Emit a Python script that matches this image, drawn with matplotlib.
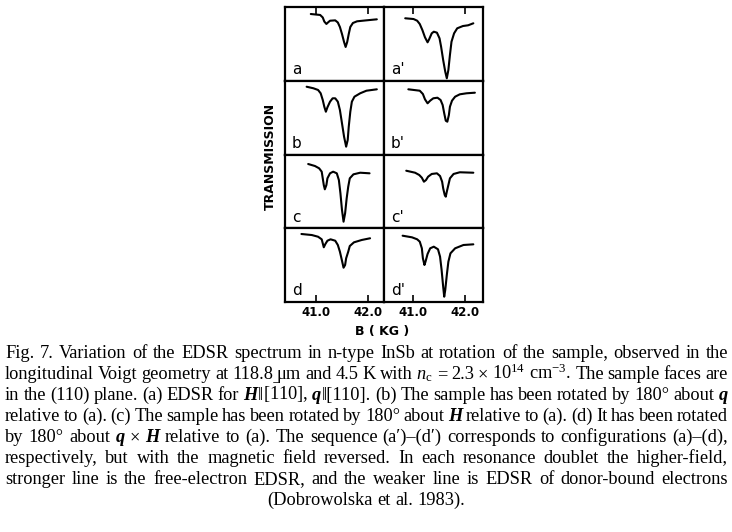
import matplotlib
matplotlib.use("Agg")
import matplotlib.pyplot as plt

plt.rcParams['mathtext.fontset'] = 'custom'
plt.rcParams['mathtext.rm'] = 'Liberation Serif'
plt.rcParams['mathtext.it'] = 'Liberation Serif:italic'
plt.rcParams['mathtext.bf'] = 'Liberation Serif:bold'

# ---------------- data (B in kG, transmission in arbitrary units) ----------------
B_a = [40.90, 41.08, 41.13, 41.16, 41.20, 41.23, 41.27, 41.37, 41.42, 41.46, 41.50, 41.54, 41.57,
       41.60, 41.63, 41.66, 41.71, 41.79, 41.94, 42.17]
T_a = [0.905, 0.892, 0.858, 0.803, 0.770, 0.790, 0.814, 0.819, 0.790, 0.729, 0.634, 0.525, 0.458,
       0.525, 0.634, 0.729, 0.783, 0.806, 0.817, 0.833]

B_a2 = [40.85, 41.01, 41.08, 41.13, 41.18, 41.23, 41.28, 41.31, 41.36, 41.40, 41.46, 41.51, 41.54,
        41.58, 41.62, 41.65, 41.68, 41.71, 41.74, 41.79, 41.85, 41.96, 42.06, 42.16]
T_a2 = [0.847, 0.837, 0.814, 0.769, 0.688, 0.589, 0.521, 0.562, 0.643, 0.665, 0.652, 0.575, 0.462,
        0.281, 0.123, 0.033, 0.146, 0.349, 0.529, 0.643, 0.711, 0.742, 0.752, 0.779]

B_b = [40.82, 40.95, 41.04, 41.09, 41.13, 41.16, 41.19, 41.22, 41.27, 41.32, 41.37, 41.42, 41.46,
       41.50, 41.54, 41.58, 41.61, 41.63, 41.66, 41.69, 41.74, 41.85, 41.97, 42.17]
T_b = [0.919, 0.898, 0.875, 0.830, 0.739, 0.648, 0.580, 0.640, 0.716, 0.762, 0.762, 0.716, 0.603,
       0.423, 0.241, 0.106, 0.197, 0.377, 0.580, 0.716, 0.784, 0.830, 0.865, 0.884]

B_b2 = [40.91, 41.13, 41.19, 41.23, 41.28, 41.33, 41.39, 41.47, 41.53, 41.57, 41.60, 41.63, 41.66,
        41.69, 41.71, 41.75, 41.81, 41.90, 42.03, 42.19]
T_b2 = [0.884, 0.865, 0.820, 0.748, 0.694, 0.730, 0.762, 0.770, 0.739, 0.671, 0.559, 0.458, 0.445,
        0.536, 0.648, 0.730, 0.784, 0.816, 0.830, 0.838]

B_c = [40.85, 40.98, 41.06, 41.11, 41.13, 41.15, 41.17, 41.20, 41.22, 41.27, 41.33, 41.40, 41.44,
       41.47, 41.50, 41.53, 41.56, 41.59, 41.62, 41.65, 41.72, 41.85, 42.03]
T_c = [0.871, 0.844, 0.813, 0.767, 0.677, 0.586, 0.528, 0.586, 0.677, 0.745, 0.767, 0.745, 0.654,
       0.474, 0.247, 0.089, 0.203, 0.406, 0.563, 0.677, 0.731, 0.753, 0.745]

B_c2 = [40.87, 41.04, 41.12, 41.17, 41.21, 41.25, 41.29, 41.36, 41.46, 41.52, 41.56, 41.58, 41.61,
        41.63, 41.65, 41.68, 41.71, 41.78, 41.90, 42.16]
T_c2 = [0.780, 0.753, 0.722, 0.685, 0.631, 0.654, 0.699, 0.736, 0.745, 0.708, 0.631, 0.542, 0.451,
        0.428, 0.496, 0.586, 0.677, 0.736, 0.759, 0.753]

B_d = [40.72, 40.92, 41.04, 41.11, 41.13, 41.15, 41.18, 41.22, 41.28, 41.37, 41.42, 41.46, 41.50,
       41.53, 41.56, 41.58, 41.62, 41.65, 41.73, 41.88, 42.04]
T_d = [0.922, 0.908, 0.885, 0.850, 0.796, 0.742, 0.786, 0.831, 0.850, 0.831, 0.773, 0.682, 0.560,
       0.465, 0.502, 0.593, 0.682, 0.759, 0.809, 0.841, 0.864]

B_d2 = [40.80, 40.98, 41.08, 41.13, 41.17, 41.19, 41.22, 41.24, 41.28, 41.33, 41.40, 41.48, 41.52,
        41.55, 41.58, 41.60, 41.62, 41.65, 41.68, 41.72, 41.81, 41.97, 42.16]
T_d2 = [0.899, 0.877, 0.850, 0.818, 0.728, 0.593, 0.502, 0.546, 0.651, 0.728, 0.750, 0.715, 0.615,
        0.434, 0.208, 0.072, 0.163, 0.366, 0.546, 0.660, 0.728, 0.773, 0.782]

panel_labels = [["a", "a'"], ["b", "b'"], ["c", "c'"], ["d", "d'"]]
tick_values = [41.0, 42.0]
tick_labels = ["41.0", "42.0"]
xlabel = "B ( KG )"
ylabel = "TRANSMISSION"

series = [[(B_a, T_a), (B_a2, T_a2)],
          [(B_b, T_b), (B_b2, T_b2)],
          [(B_c, T_c), (B_c2, T_c2)],
          [(B_d, T_d), (B_d2, T_d2)]]

# ---------------- figure ----------------
W, H = 732, 532
fig = plt.figure(figsize=(W / 100, H / 100), dpi=100)
fig.patch.set_facecolor("white")

left, right, top, bottom = 285 / W, 483 / W, 1 - 7 / H, 1 - 302 / H
gs = fig.add_gridspec(4, 2, left=left, right=right, top=top, bottom=bottom,
                      wspace=0, hspace=0)
xlims = [(40.404, 42.308), (40.442, 42.346)]

for r in range(4):
    for c in range(2):
        ax = fig.add_subplot(gs[r, c])
        Bv, Tv = series[r][c]
        ax.plot(Bv, Tv, color="black", lw=1.5, solid_joinstyle="round",
                solid_capstyle="round")
        ax.set_xlim(*xlims[c])
        ax.set_ylim(0, 1)
        ax.set_yticks([])
        for sp in ax.spines.values():
            sp.set_linewidth(1.6)
        ax.text(0.07, 0.05, panel_labels[r][c], transform=ax.transAxes,
                fontsize=11, family="DejaVu Sans", ha="left", va="bottom")
        if r == 0:
            ax.xaxis.set_ticks_position("top")
            ax.set_xticks(tick_values)
            ax.tick_params(axis="x", direction="in", length=5, width=1.2,
                           labeltop=False, labelbottom=False)
        elif r == 3:
            ax.xaxis.set_ticks_position("bottom")
            ax.set_xticks(tick_values)
            ax.set_xticklabels(tick_labels)
            ax.tick_params(axis="x", direction="in", length=5, width=1.2, pad=3,
                           labelsize=8.5)
            for lab in ax.get_xticklabels():
                lab.set_fontweight("bold")
                lab.set_family("DejaVu Sans")
        else:
            ax.set_xticks([])

fig.text(270 / W, 1 - 156 / H, ylabel, rotation=90, ha="center", va="center",
         fontsize=9, fontweight="bold", family="DejaVu Sans")
fig.text(382 / W, 1 - 331 / H, xlabel, ha="center", va="center",
         fontsize=9, fontweight="bold", family="DejaVu Sans")

# ---------------- caption (justified) ----------------
SERIF = ["Liberation Serif", "DejaVu Serif"]
N = {}
BI = {"fontweight": "bold", "fontstyle": "italic"}


def words(s):
    return [[(w, N)] for w in s.split()]


cap_lines = [
    words("Fig. 7.  Variation of the EDSR spectrum in n-type InSb at rotation of the sample, observed in the"),
    words("longitudinal Voigt geometry at 118.8 \u03bcm and 4.5 K with")
    + [[(r"$n_{\rm c}$", N)], [("=", N)], [("2.3", N)], [("\u00d7", N)],
       [(r"10$^{14}$", N)], [(r"cm$^{-3}$.", N)]]
    + words("The sample faces are"),
    words("in the (110) plane. (a) EDSR for")
    + [[("H", BI), ("\u2016", N), (r"$[\bar{1}10]$,", N)],
       [("q", BI), ("\u2016[110].", N)]]
    + words("(b) The sample has been rotated by 180\u00b0 about") + [[("q", BI)]],
    words("relative to (a). (c) The sample has been rotated by 180\u00b0 about") + [[("H", BI)]]
    + words("relative to (a). (d) It has been rotated"),
    words("by 180\u00b0 about") + [[("q", BI)], [("\u00d7", N)], [("H", BI)]]
    + words("relative to (a). The sequence (a\u2032)\u2013(d\u2032) corresponds to configurations (a)\u2013(d),"),
    words("respectively, but with the magnetic field reversed. In each resonance doublet the higher-field,"),
    words("stronger line is the free-electron EDSR, and the weaker line is EDSR of donor-bound electrons"),
    words("(Dobrowolska et al. 1983)."),
]
baselines = [358, 379, 400, 421, 442, 463, 484, 505]
x_left, x_right = 5, 728
CAP_SIZE = 13.2

renderer = fig.canvas.get_renderer()


def make_token(tok, y):
    objs = []
    for s, kw in tok:
        t = fig.text(0, y, s, fontsize=CAP_SIZE, family=SERIF, va="baseline",
                     ha="left", transform=None, **kw)
        objs.append(t)
    widths = [o.get_window_extent(renderer).width for o in objs]
    return objs, widths


for i, (line, yb) in enumerate(zip(cap_lines, baselines)):
    ypix = H - yb
    toks = [make_token(tok, ypix) for tok in line]
    tok_w = [sum(w) for _, w in toks]
    total = sum(tok_w)
    if i == len(cap_lines) - 1:
        space = CAP_SIZE * 0.25 * 100 / 72
        full = total + space * (len(toks) - 1)
        x = (x_left + x_right) / 2 - full / 2
    else:
        space = (x_right - x_left - total) / (len(toks) - 1)
        x = x_left
    for (objs, ws), tw in zip(toks, tok_w):
        xx = x
        for o, w in zip(objs, ws):
            o.set_position((xx, ypix))
            xx += w
        x += tw + space

fig.savefig("out.png", dpi=100, facecolor="white")
